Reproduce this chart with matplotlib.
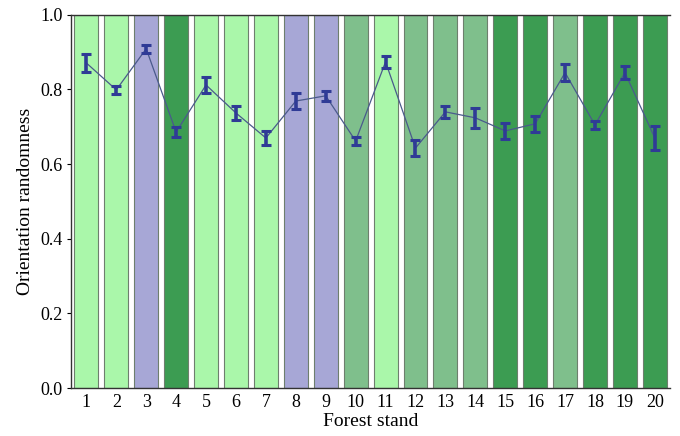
import numpy as np
import matplotlib.pyplot as plt

plt.rcParams['font.family'] = ['Liberation Serif', 'DejaVu Serif']

# Data
stands = list(range(1, 21))
randomness = [0.871, 0.799, 0.909, 0.686, 0.812, 0.737, 0.670, 0.769, 0.783, 0.662,
              0.874, 0.643, 0.740, 0.724, 0.689, 0.708, 0.845, 0.705, 0.845, 0.670]
errors = [0.025, 0.010, 0.011, 0.013, 0.022, 0.020, 0.020, 0.022, 0.014, 0.011,
          0.016, 0.021, 0.017, 0.026, 0.022, 0.022, 0.022, 0.011, 0.017, 0.032]
groups = ['light', 'light', 'purple', 'dark', 'light', 'light', 'light', 'purple', 'purple', 'medium',
          'light', 'medium', 'medium', 'medium', 'dark', 'dark', 'medium', 'dark', 'dark', 'dark']

group_colors = {'light': '#aaf7aa', 'purple': '#a7a7d6', 'dark': '#3c9c52', 'medium': '#7fbf8c'}
bar_colors = [group_colors[g] for g in groups]

fig, ax = plt.subplots(figsize=(6.8, 4.36), dpi=100)
fig.subplots_adjust(left=0.105, right=0.985, top=0.966, bottom=0.11)

# Full-height background bars coloured by stand type
ax.bar(stands, [1.0] * len(stands), width=0.8, color=bar_colors,
       edgecolor='#6e7f6e', linewidth=0.8, zorder=1)

# Mean randomness with error bars
ax.plot(stands, randomness, color='#4a5a8c', linewidth=0.9, zorder=2)
ax.errorbar(stands, randomness, yerr=errors, fmt='none', ecolor='#2f3b96',
            elinewidth=2.6, capsize=3.5, capthick=2.2, zorder=3)

ax.set_xlim(0.5, 20.5)
ax.set_ylim(0, 1.0)
ax.set_xticks(stands)
ax.set_yticks(np.arange(0, 1.01, 0.2))
ax.set_yticklabels(['%.1f' % v for v in np.arange(0, 1.01, 0.2)])
ax.tick_params(axis='x', length=0, labelsize=13, pad=4)
ax.tick_params(axis='y', length=3, labelsize=13)
ax.spines['right'].set_visible(False)
for s in ['left', 'bottom', 'top']:
    ax.spines[s].set_color('#333333')
    ax.spines[s].set_linewidth(1.0)

ax.set_xlabel('Forest stand', fontsize=14, labelpad=2)
ax.set_ylabel('Orientation randomness', fontsize=14)

fig.savefig('out.png', dpi=100)
